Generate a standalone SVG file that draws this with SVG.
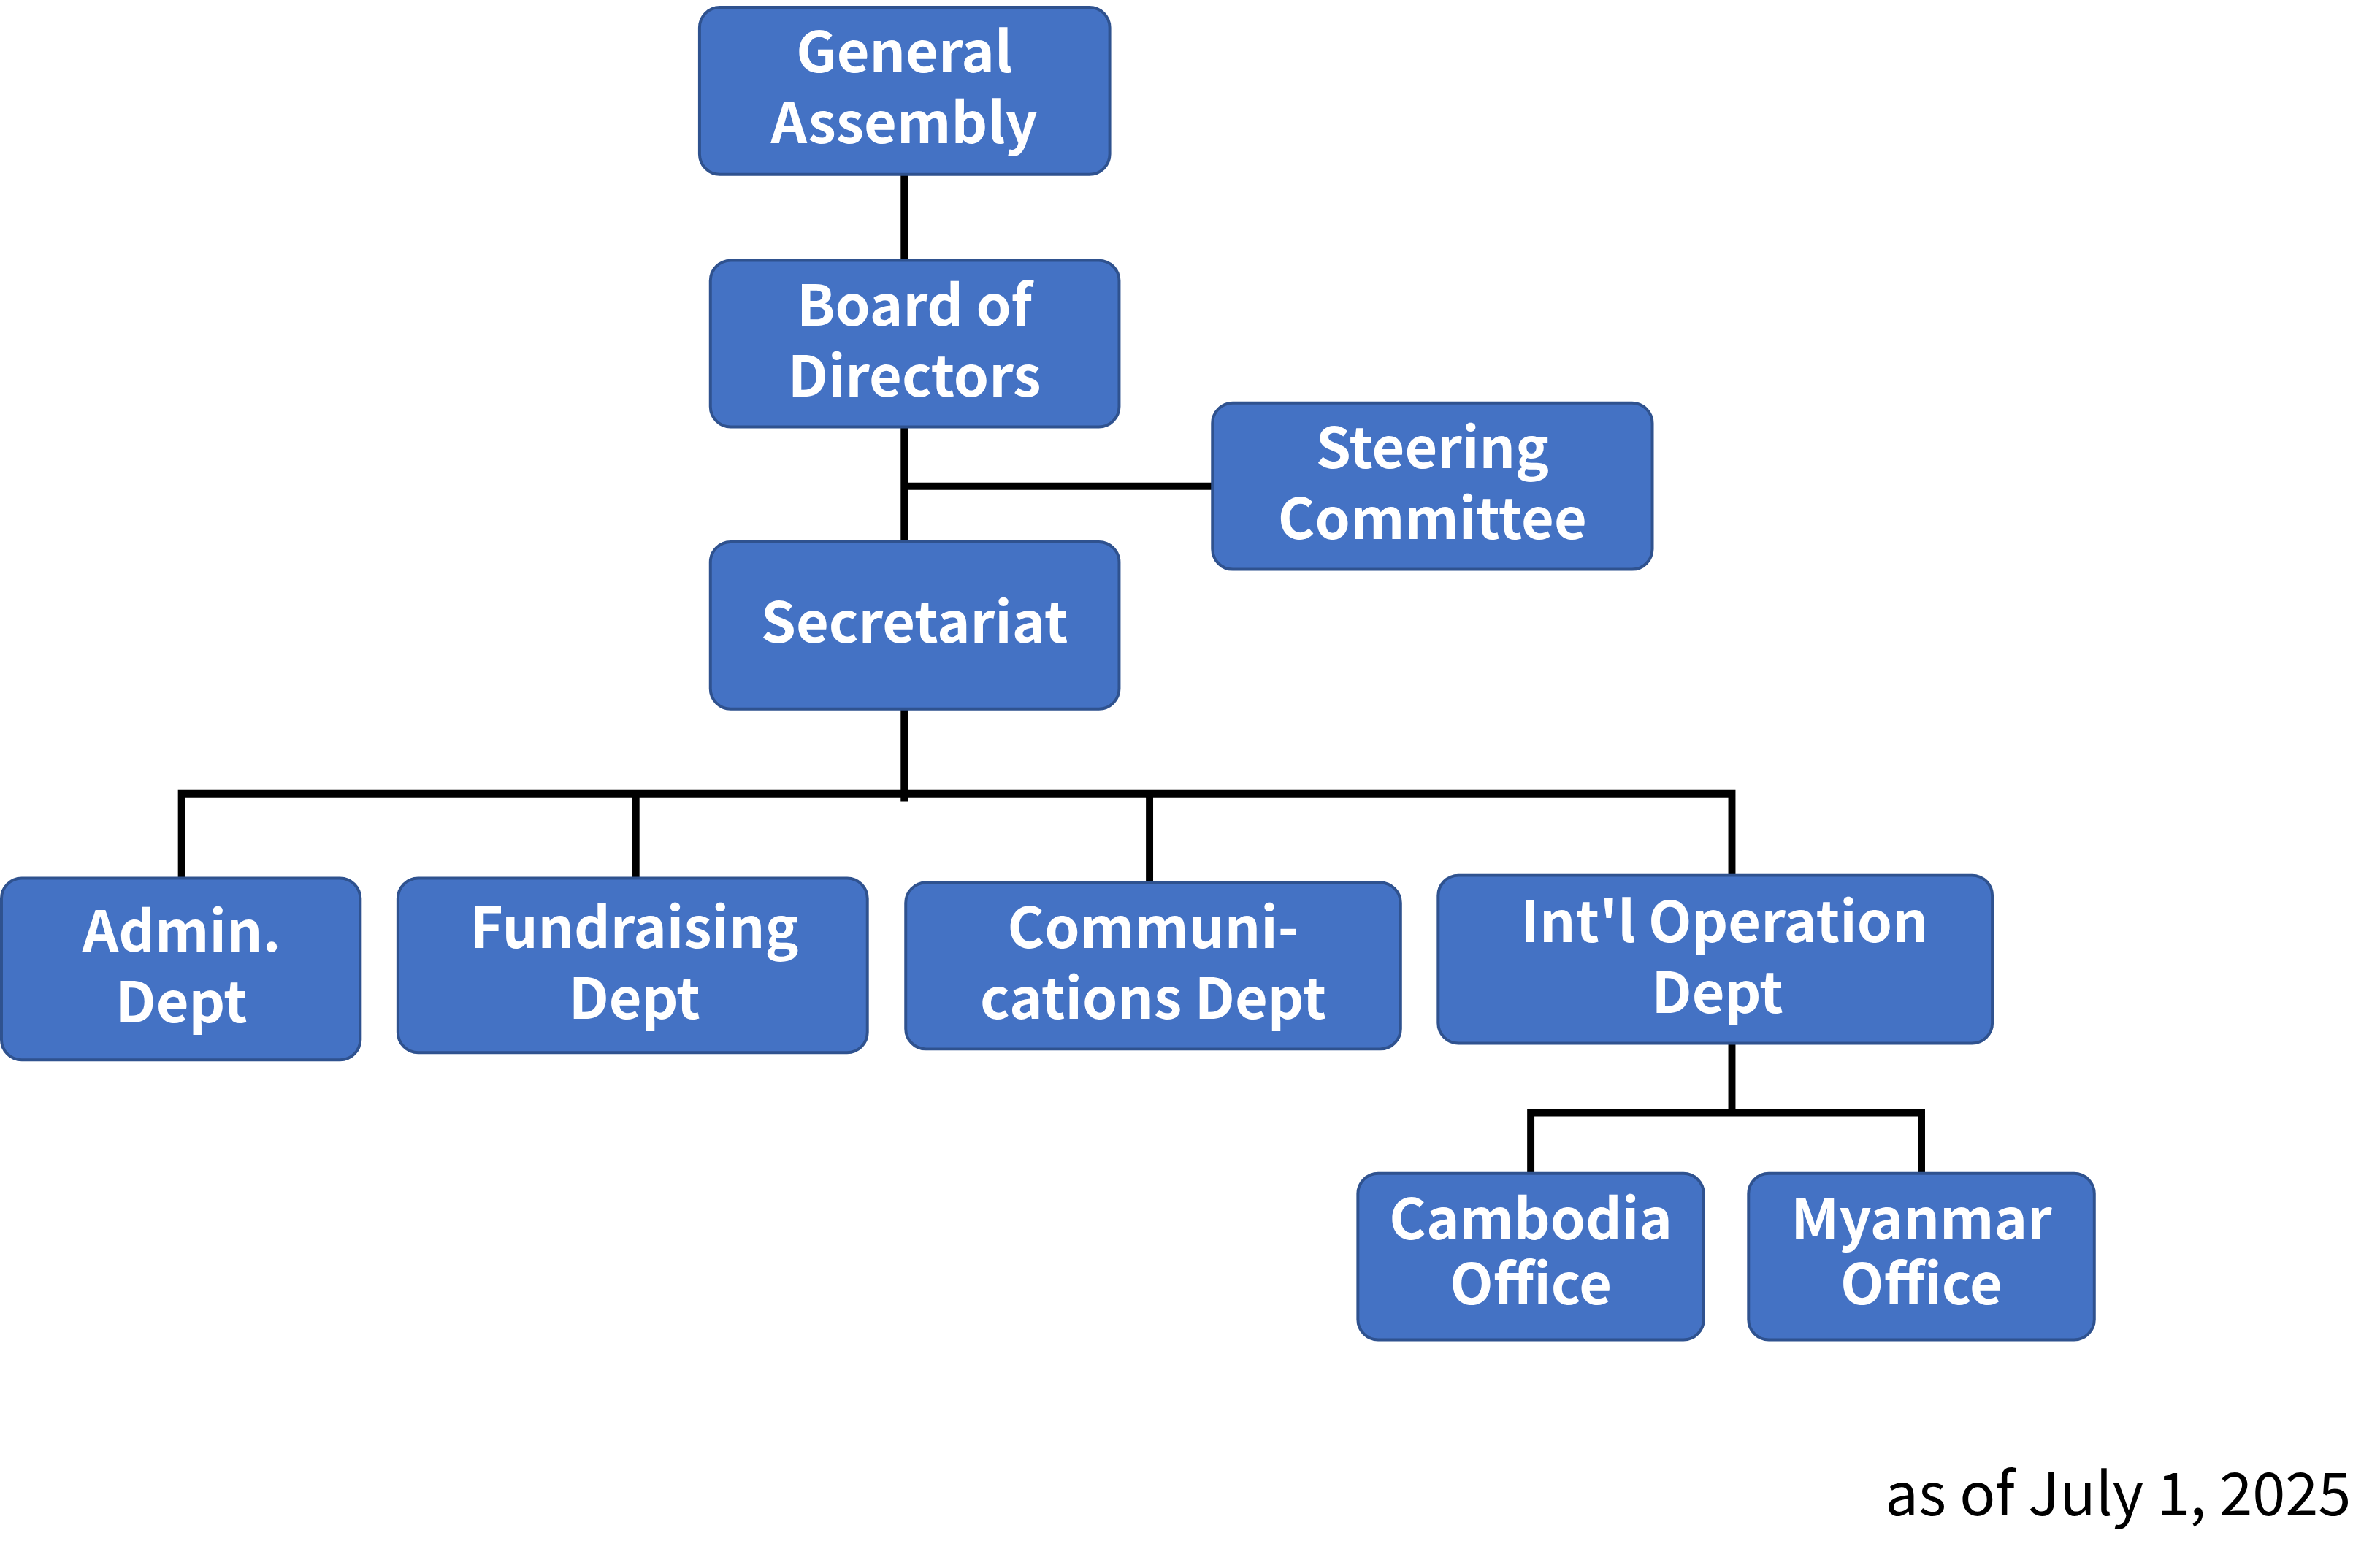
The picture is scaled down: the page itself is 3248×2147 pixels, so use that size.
<svg xmlns="http://www.w3.org/2000/svg" width="3248" height="2147" viewBox="0 0 3248 2147">
<style>
.n{fill:#4472C4;stroke:#2F528F;stroke-width:4}
.t{fill:#fff;font-family:"Noto Sans CJK JP","Noto Sans",sans-serif;font-weight:bold;font-size:78px;text-anchor:middle}
.c{stroke:#000;stroke-width:10;fill:none}
</style>
<rect width="3248" height="2147" fill="#fff"/>
<g transform="scale(0.9906)">
<g id="connectors" class="c">
<path d="M1250 241V749M1250 672H1676M1250 980V1108M251 1214V1097H2394V1210M879 1097V1214M1589 1097V1220M2394 1442V1538M2116 1622V1538H2656V1622"/>
</g>
<g id="ga"><rect class="n" x="967" y="10" width="567" height="231" rx="28"/><text class="t" x="1250" y="100">General</text><text class="t" x="1250" y="198">Assembly</text></g>
<g id="board"><rect class="n" x="982" y="360" width="565" height="230" rx="28"/><text class="t" x="1264" y="450">Board of</text><text class="t" x="1264" y="548">Directors</text></g>
<g id="steering"><rect class="n" x="1676" y="557" width="608" height="230" rx="28"/><text class="t" x="1980" y="647">Steering</text><text class="t" x="1980" y="745">Committee</text></g>
<g id="secretariat"><rect class="n" x="982" y="749" width="565" height="231" rx="28"/><text class="t" x="1264" y="888">Secretariat</text></g>
<g id="admin"><rect class="n" x="2" y="1214" width="496" height="251" rx="28"/><text class="t" x="251" y="1315">Admin.</text><text class="t" x="251" y="1413">Dept</text></g>
<g id="fund"><rect class="n" x="550" y="1214" width="649" height="241" rx="28"/><text class="t" x="877" y="1310">Fundraising</text><text class="t" x="877" y="1408">Dept</text></g>
<g id="comm"><rect class="n" x="1252" y="1220" width="684" height="230" rx="28"/><text class="t" x="1594" y="1310">Communi-</text><text class="t" x="1594" y="1408">cations Dept</text></g>
<g id="intl"><rect class="n" x="1988" y="1210" width="766" height="232" rx="28"/><text class="t" x="2384" y="1302">Int'l Operation</text><text class="t" x="2374" y="1400">Dept</text></g>
<g id="cambodia"><rect class="n" x="1877" y="1622" width="478" height="230" rx="28"/><text class="t" x="2116" y="1713">Cambodia</text><text class="t" x="2116" y="1803">Office</text></g>
<g id="myanmar"><rect class="n" x="2417" y="1622" width="478" height="230" rx="28"/><text class="t" x="2656" y="1713">Myanmar</text><text class="t" x="2656" y="1803">Office</text></g>
<text x="3250" y="2095" font-family="Noto Sans CJK JP,Noto Sans,sans-serif" font-size="82" text-anchor="end" fill="#000">as of July 1, 2025</text>
</g>
</svg>
